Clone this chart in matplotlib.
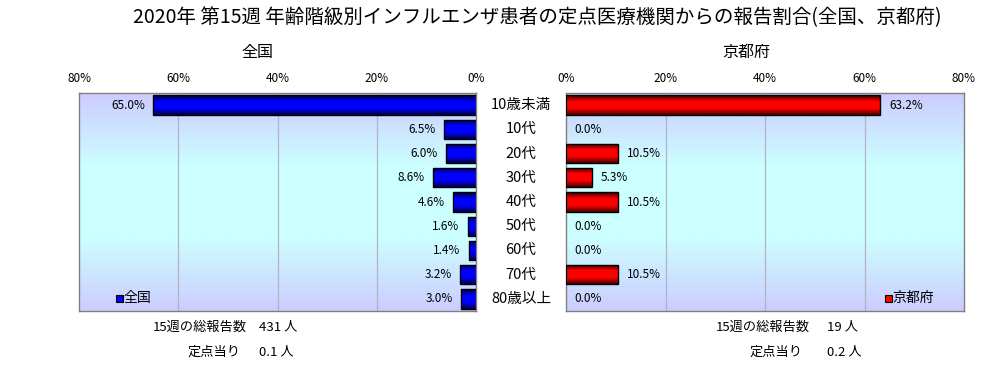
import numpy as np
import matplotlib
matplotlib.use("Agg")
import matplotlib.pyplot as plt
from matplotlib.colors import LinearSegmentedColormap

plt.rcParams['font.family'] = ['Noto Sans CJK JP', 'DejaVu Sans']

categories = ["10歳未満", "10代", "20代", "30代", "40代", "50代", "60代", "70代", "80歳以上"]
national = [65.0, 6.5, 6.0, 8.6, 4.6, 1.6, 1.4, 3.2, 3.0]
kyoto = [63.2, 0.0, 10.5, 5.3, 10.5, 0.0, 0.0, 10.5, 0.0]
ticks = [0, 20, 40, 60, 80]
tick_labels = ["0%", "20%", "40%", "60%", "80%"]
title = "2020年 第15週 年齢階級別インフルエンザ患者の定点医療機関からの報告割合(全国、京都府)"
footer_left = [("15週の総報告数", "431 人"), ("定点当り", "0.1 人")]
footer_right = [("15週の総報告数", "19 人"), ("定点当り", "0.2 人")]

W, H = 1006, 365
fig = plt.figure(figsize=(W / 100, H / 100), dpi=100)

def fx(px):
    return px / W

def fy(py):
    return 1 - py / H

bg_cmap = LinearSegmentedColormap.from_list("bg", ["#ccccff", "#ccffff", "#ccffff", "#ccccff"])
blue_cmap = LinearSegmentedColormap.from_list("bb", ["#000033", "#0000ff", "#0000ff", "#000044"])
red_cmap = LinearSegmentedColormap.from_list("rb", ["#330000", "#ff0000", "#ff0000", "#440000"])

top, bot = 93, 311
axL = fig.add_axes([fx(79), fy(bot), fx(476 - 79), (bot - top) / H])
axR = fig.add_axes([fx(566), fy(bot), fx(964 - 566), (bot - top) / H])

y = np.arange(len(categories))
grad = np.linspace(0, 1, 256).reshape(-1, 1)

for ax, vals, cmap, left in [(axL, national, blue_cmap, True), (axR, kyoto, red_cmap, False)]:
    ax.set_xlim(80, 0) if left else ax.set_xlim(0, 80)
    ax.set_ylim(len(categories) - 0.5, -0.5)
    ax.imshow(grad, aspect='auto', cmap=bg_cmap, extent=(ax.get_xlim()[0], ax.get_xlim()[1], len(categories) - 0.5, -0.5), zorder=0)
    for t in [20, 40, 60]:
        ax.axvline(t, color="#b4b4c0", lw=0.9, zorder=1)
    bars = ax.barh(y, vals, height=0.8, color='none', edgecolor='black', lw=1.0, zorder=3)
    for b, v in zip(bars, vals):
        if v <= 0:
            b.set_linewidth(0)
            continue
        x0, y0 = b.get_x(), b.get_y()
        w, h = b.get_width(), b.get_height()
        im = ax.imshow(grad, aspect='auto', cmap=cmap, extent=(x0, x0 + w, y0 + h, y0), zorder=2)
        im.set_clip_path(b)
    for yi, v in zip(y, vals):
        if left:
            ax.text(v + 1.7, yi, f"{v:.1f}%", ha='right', va='center', fontsize=8.5, zorder=4)
        else:
            ax.text(v + 1.7, yi, f"{v:.1f}%", ha='left', va='center', fontsize=8.5, zorder=4)
    ax.set_xlim(80, 0) if left else ax.set_xlim(0, 80)
    ax.set_ylim(len(categories) - 0.5, -0.5)
    ax.set_xticks(ticks)
    ax.set_xticklabels(tick_labels, fontsize=8.5)
    ax.xaxis.tick_top()
    ax.tick_params(axis='x', length=0, pad=5.5)
    ax.set_yticks([])
    for s in ax.spines.values():
        s.set_color("#808080")
        s.set_linewidth(1.0)

for ax, cx, label, col in [(axL, 119, "全国", "#0000ff"), (axR, 888, "京都府", "#ff0000")]:
    fig.patches.append(plt.Rectangle((fx(cx - 3.5), fy(302)), fx(7), 7 / H, transform=fig.transFigure,
                                     facecolor=col, edgecolor='black', lw=0.8, zorder=5))
    fig.text(fx(cx + 4.5), fy(298), label, ha='left', va='center', fontsize=10)

for yi, c in zip(y, categories):
    yy = axL.transData.transform((0, yi))[1]
    fig.text(fx(521), yy / H, c, ha='center', va='center', fontsize=10.5)

fig.text(fx(537), fy(18), title, ha='center', va='center', fontsize=14)
fig.text(fx(257), fy(52), "全国", ha='center', va='center', fontsize=11.5)
fig.text(fx(746), fy(52), "京都府", ha='center', va='center', fontsize=11.5)

for (lab, val), py in zip(footer_left, [327, 352]):
    fig.text(fx(247 if lab.startswith("15") else 240), fy(py), lab, ha='right', va='center', fontsize=9.5)
    fig.text(fx(259), fy(py), val, ha='left', va='center', fontsize=9.5)
for (lab, val), py in zip(footer_right, [327, 352]):
    fig.text(fx(810 if lab.startswith("15") else 803), fy(py), lab, ha='right', va='center', fontsize=9.5)
    fig.text(fx(827), fy(py), val, ha='left', va='center', fontsize=9.5)

fig.savefig("out.png", dpi=100)
